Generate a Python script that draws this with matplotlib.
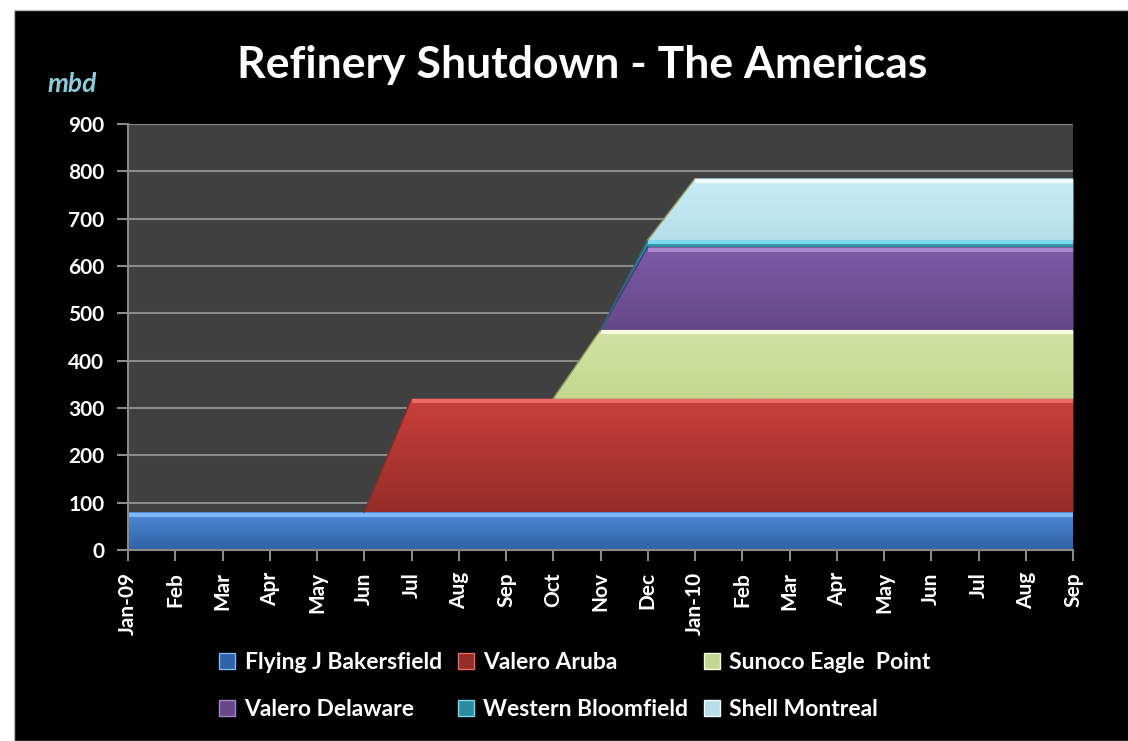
import numpy as np
import matplotlib
matplotlib.use("Agg")
from matplotlib import pyplot as plt
from matplotlib.colors import LinearSegmentedColormap
from matplotlib.patches import Rectangle, Patch
from matplotlib.transforms import offset_copy

# months Jan-09 .. Sep-10
months = ['Jan-09', 'Feb', 'Mar', 'Apr', 'May', 'Jun', 'Jul', 'Aug', 'Sep', 'Oct', 'Nov', 'Dec',
          'Jan-10', 'Feb', 'Mar', 'Apr', 'May', 'Jun', 'Jul', 'Aug', 'Sep']

# shutdown capacity per refinery, mbd
flying_j = [80, 80, 80, 80, 80, 80, 80, 80, 80, 80, 80, 80, 80, 80, 80, 80, 80, 80, 80, 80, 80]
valero_aruba = [0, 0, 0, 0, 0, 0, 240, 240, 240, 240, 240, 240, 240, 240, 240, 240, 240, 240, 240, 240, 240]
sunoco = [0, 0, 0, 0, 0, 0, 0, 0, 0, 0, 145, 145, 145, 145, 145, 145, 145, 145, 145, 145, 145]
valero_delaware = [0, 0, 0, 0, 0, 0, 0, 0, 0, 0, 0, 175, 175, 175, 175, 175, 175, 175, 175, 175, 175]
western = [0, 0, 0, 0, 0, 0, 0, 0, 0, 0, 0, 15, 15, 15, 15, 15, 15, 15, 15, 15, 15]
shell = [0, 0, 0, 0, 0, 0, 0, 0, 0, 0, 0, 0, 130, 130, 130, 130, 130, 130, 130, 130, 130]

series_names = ['Flying J Bakersfield', 'Valero Aruba', 'Sunoco Eagle  Point',
                'Valero Delaware', 'Western Bloomfield', 'Shell Montreal']
series = [flying_j, valero_aruba, sunoco, valero_delaware, western, shell]

# (top colour, bottom colour, highlight, edge) for the bevelled look
styles = [('#4f8ad6', '#2f62a6', '#7fb8f4', '#2a5590'),
          ('#c8403b', '#962c29', '#e86a62', '#8a2825'),
          ('#d4e3a4', '#c4d690', '#f4fadc', '#8a9a50'),
          ('#7d5aa6', '#654889', '#a888cc', '#4a3470'),
          ('#40b4cc', '#2a8aa0', '#7ad8ea', '#1f6f80'),
          ('#c8ecf6', '#b6dfeb', '#eefbff', '#8a9a50')]

plt.rcParams['font.family'] = ['Lato', 'DejaVu Sans']
plt.rcParams['font.weight'] = 'bold'

fig = plt.figure(figsize=(11.28, 7.41), dpi=100, facecolor='white')
fig.patches.append(Rectangle((14 / 1128, 0), 1, 1 - 10 / 741, transform=fig.transFigure,
                             facecolor='black', edgecolor='#bbbbbb', lw=1, zorder=-10))

ax = fig.add_axes([128 / 1128, 1 - 550 / 741, (1073 - 128) / 1128, (550 - 124) / 741])
ax.set_facecolor('#404040')
shifted = offset_copy(ax.transData, fig=fig, y=-2.5, units='dots')

x = np.arange(len(months))
lower = np.zeros(len(months))
for vals, (ctop, cbot, chi, cedge) in zip(series, styles):
    vals = np.array(vals, dtype=float)
    upper = lower + vals
    poly = ax.fill_between(x, lower, upper, color=cbot, lw=0, zorder=2)
    first = int(np.argmax(vals > 0))
    y0 = lower[first:].min()
    y1 = upper[first:].max()
    cmap = LinearSegmentedColormap.from_list('g', [cbot, ctop])
    grad = np.linspace(0, 1, 100).reshape(-1, 1)
    im = ax.imshow(grad, cmap=cmap, origin='lower', aspect='auto',
                   extent=[0, len(months) - 1, y0, y1], zorder=3)
    im.set_clip_path(poly.get_paths()[0], transform=ax.transData)
    s = max(first - 1, 0)
    # thin darker outline on the slope, light bevel band along the flat top
    ax.plot(x[s:first + 1], upper[s:first + 1], color=cedge, lw=1, zorder=4)
    ax.plot(x[first:], upper[first:], color=chi, lw=3, zorder=4,
            solid_capstyle='butt', transform=shifted)
    lower = upper

ax.set_xlim(0, len(months) - 1)
ax.set_ylim(0, 900)
ax.set_yticks(range(0, 901, 100))
ax.set_xticks(x)
ax.set_xticklabels(months, rotation=90)
ax.grid(axis='y', color='#8a8a8a', lw=1.5, zorder=1)
ax.set_axisbelow(True)
for side in ['top', 'right']:
    ax.spines[side].set_visible(False)
for side in ['left', 'bottom']:
    ax.spines[side].set_color('#8a8a8a')
    ax.spines[side].set_linewidth(1.5)
    ax.spines[side].set_zorder(5)
ax.tick_params(colors='#8a8a8a', length=8, width=1.5, labelcolor='white', labelsize=15)
ax.tick_params(axis='x', pad=8)
ax.tick_params(axis='y', pad=9)

fig.text(582 / 1128, 1 - 65 / 741, 'Refinery Shutdown - The Americas', color='white',
         fontsize=32, fontweight='bold', ha='center', va='center')
fig.text(72 / 1128, 1 - 84 / 741, 'mbd', color='#8ccbdc', fontsize=19,
         fontstyle='italic', ha='center', va='center')

handles = [Patch(facecolor=c[1], edgecolor=c[2], lw=1) for c in styles]
order = [0, 3, 1, 4, 2, 5]
leg = fig.legend([handles[i] for i in order], [series_names[i] for i in order],
                 ncol=3, loc='center', bbox_to_anchor=(575 / 1128, 1 - 686 / 741),
                 frameon=False, fontsize=16.5, labelcolor='white',
                 handlelength=0.7, handleheight=0.7, handletextpad=0.4,
                 columnspacing=0.7, labelspacing=1.15)

fig.savefig('out.png', dpi=100, facecolor='white')
